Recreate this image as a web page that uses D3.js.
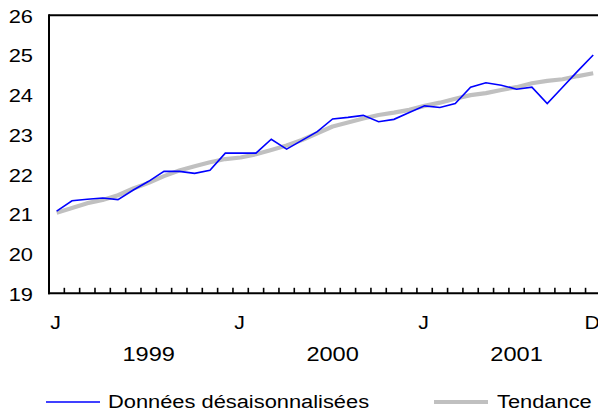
<!DOCTYPE html>
<html><head><meta charset="utf-8">
<script src="https://cdn.jsdelivr.net/npm/d3@7"></script>
<style>
html,body{margin:0;padding:0;background:#fff;overflow:hidden}
text{font-family:"Liberation Sans",Arial,sans-serif;fill:#000}
</style></head>
<body>
<script>
const months = d3.range(36); // Jan 1999 .. Dec 2001
const monthLabels = [{m:0,t:"J"},{m:12,t:"J"},{m:24,t:"J"},{m:35,t:"D"}];
const yearLabels = [{m:6,t:"1999"},{m:18,t:"2000"},{m:30,t:"2001"}];
const yTicks = [19,20,21,22,23,24,25,26];
const seasonallyAdjusted = [21.07,21.33,21.37,21.40,21.36,21.60,21.82,22.07,22.07,22.02,22.10,22.53,
  22.53,22.53,22.88,22.63,22.85,23.07,23.39,23.43,23.48,23.32,23.38,23.55,
  23.72,23.68,23.78,24.19,24.30,24.24,24.14,24.19,23.78,24.19,24.60,25.00];
const trend = [21.03,21.15,21.27,21.35,21.47,21.64,21.78,21.95,22.09,22.20,22.30,22.38,
  22.42,22.50,22.61,22.72,22.86,23.03,23.20,23.30,23.40,23.49,23.55,23.62,
  23.72,23.80,23.90,23.99,24.04,24.12,24.19,24.29,24.35,24.39,24.47,24.54];
const legendItems = [{t:"Données désaisonnalisées",c:"#0000ff",w:1.6},{t:"Tendance",c:"#c0c0c0",w:4}];

const W=598,H=415, L=49, T=15.3, B=293.3, R=49+36*15.33;
const SX=1.15;
const svg=d3.select("body").append("svg").attr("width",W).attr("height",H);

const x=d3.scaleBand().domain(months).range([L,R]).padding(0);
const y=d3.scaleLinear().domain([19,26]).range([B,T]);
const cx=m=>x(m)+x.bandwidth()/2;

function txt(xp,yp,t,size,anchor){
  svg.append("text").attr("transform",`translate(${xp},${yp}) scale(${SX},1)`)
    .attr("text-anchor",anchor).attr("dominant-baseline","central")
    .style("font-size",size+"px").text(t);
}

// y labels
yTicks.forEach(v=>txt(33,y(v)+0.5,v,19,"end"));

// frame: top border
svg.append("line").attr("x1",L).attr("x2",R).attr("y1",y(26)).attr("y2",y(26)).attr("stroke","#000").attr("stroke-width",2);

// ticks on x axis (month boundaries)
svg.selectAll(".tk").data(months.slice(1)).enter().append("line")
  .attr("x1",d=>x(d)).attr("x2",d=>x(d)).attr("y1",B).attr("y2",B-5.5)
  .attr("stroke","#000").attr("stroke-width",1.6);

// lines
const line=(arr)=>d3.line().x((d,i)=>cx(i)).y(d=>y(d))(arr);
svg.append("path").attr("d",line(trend)).attr("fill","none").attr("stroke","#c0c0c0").attr("stroke-width",4.2).attr("stroke-linejoin","round");
svg.append("path").attr("d",line(seasonallyAdjusted)).attr("fill","none").attr("stroke","#0000ff").attr("stroke-width",1.6);

// axes
svg.append("line").attr("x1",L).attr("x2",L).attr("y1",y(26)-1).attr("y2",B+1).attr("stroke","#000").attr("stroke-width",2);
svg.append("line").attr("x1",L-1).attr("x2",R).attr("y1",B).attr("y2",B).attr("stroke","#000").attr("stroke-width",2);

// x labels
monthLabels.forEach(d=>txt(cx(d.m)-1,323,d.t,18.5,"middle"));
yearLabels.forEach(d=>txt(cx(d.m),354,d.t,20.5,"middle"));

// legend
const lg=[{x1:46,x2:100,tx:108},{x1:434,x2:488,tx:497}];
legendItems.forEach((d,i)=>{
  svg.append("line").attr("x1",lg[i].x1).attr("x2",lg[i].x2).attr("y1",402).attr("y2",402)
    .attr("stroke",d.c).attr("stroke-width",d.w);
  txt(lg[i].tx,401.5,d.t,19,"start");
});
</script>
</body></html>
